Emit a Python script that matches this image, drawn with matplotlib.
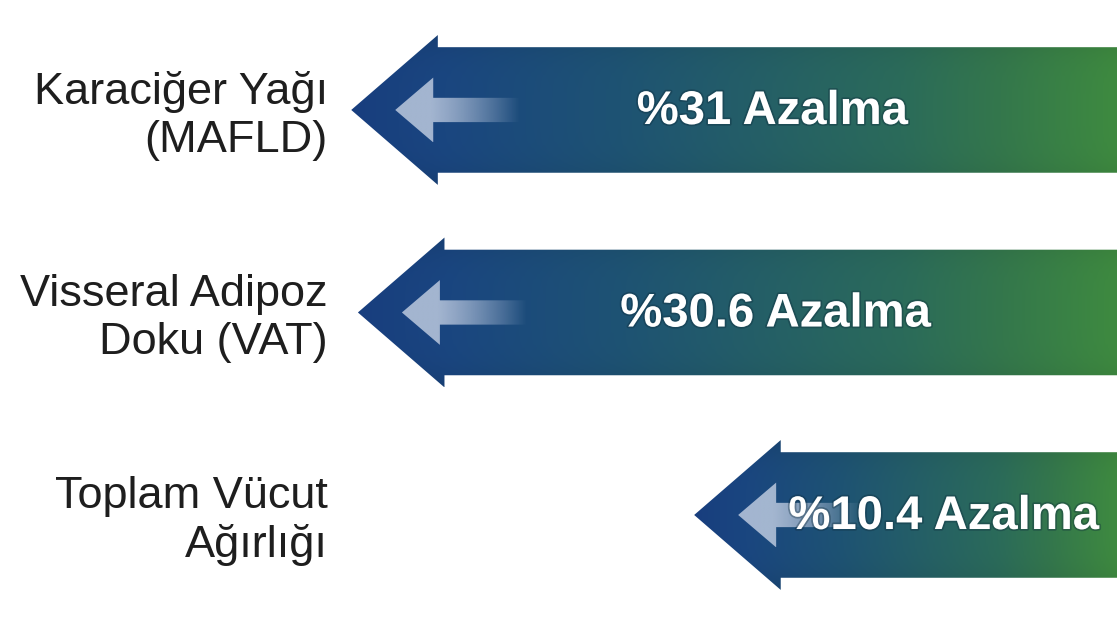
import numpy as np
import matplotlib.pyplot as plt
import matplotlib.transforms as mtransforms
import matplotlib.patheffects as pe
from matplotlib.patches import Polygon
from matplotlib.colors import LinearSegmentedColormap, to_rgb

# Veriler
etiketler = ['Karaciğer Yağı\n(MAFLD)', 'Visseral Adipoz\nDoku (VAT)', 'Toplam Vücut\nAğırlığı']
azalma = [31, 30.6, 10.4]
metinler = ['%31 Azalma', '%30.6 Azalma', '%10.4 Azalma']

ofset = 15.0        # ok uzunluğu = ofset + azalma
govde_h = 0.31      # gövde yarı yüksekliği (satır birimi)
bas_h = 0.37        # baş yarı yüksekliği
bas_l = 5.2         # baş uzunluğu (x birimi)

renk_haritasi = LinearSegmentedColormap.from_list(
    'mavi_yesil',
    [(0.0, '#183e7e'), (0.12, '#1a4680'), (0.35, '#1e5373'),
     (0.72, '#2b6b5a'), (0.85, '#34774c'), (1.0, '#3e8a40')])

FONT = ['Liberation Sans Narrow', 'Liberation Sans', 'DejaVu Sans']

fig = plt.figure(figsize=(11.17, 6.29), dpi=100)
ax = fig.add_axes([0, 0, 1, 1])
ax.set_xlim(-67.1, 0)
ax.set_ylim(2.563, -0.543)
ax.axis('off')


def ok_ciz(i, deger, metin):
    uc = -(deger + ofset)
    taban = uc + bas_l
    verts = [(uc, i), (taban, i - bas_h), (taban, i - govde_h), (0, i - govde_h),
             (0, i + govde_h), (taban, i + govde_h), (taban, i + bas_h)]
    poly = Polygon(verts, closed=True, facecolor='none', edgecolor='none')
    ax.add_patch(poly)

    # yatay renk geçişi + kenarlarda hafif koyulaşma
    nx, ny = 400, 80
    gx = np.linspace(0, 1, nx)
    rgb = renk_haritasi(gx)[:, :3]
    gy = np.linspace(-1, 1, ny)
    golge = 1.0 - 0.10 * gy ** 4
    img = rgb[None, :, :] * golge[:, None, None]
    im = ax.imshow(img, extent=[uc, 0, i + bas_h, i - bas_h],
                   aspect='auto', interpolation='bilinear', zorder=2)
    im.set_clip_path(poly)

    # içteki açık renkli küçük ok
    k = 1 / 16.65
    iuc = uc + 44 * k
    ibas = iuc + 38 * k
    ison = iuc + 125 * k
    ih, ig = 0.16, 0.06
    iverts = [(iuc, i), (ibas, i - ih), (ibas, i - ig), (ison, i - ig),
              (ison, i + ig), (ibas, i + ig), (ibas, i + ih)]
    ipoly = Polygon(iverts, closed=True, facecolor='none', edgecolor='none')
    ax.add_patch(ipoly)
    px = np.linspace(0, 1, 200)
    alfa = np.clip(1.15 - px ** 1.6 * 1.15, 0, 1) * 0.9
    c = np.array(to_rgb('#b4c3da'))
    iimg = np.zeros((10, 200, 4))
    iimg[:, :, :3] = c
    iimg[:, :, 3] = alfa[None, :]
    iim = ax.imshow(iimg, extent=[iuc, ison, i + ih, i - ih],
                    aspect='auto', interpolation='bilinear', zorder=3)
    iim.set_clip_path(ipoly)

    t = ax.text(taban / 2 - 0.3, i + 0.01, metin, color='white', fontsize=34,
                fontweight='bold', family=FONT, ha='center', va='center', zorder=4)
    t.set_path_effects([pe.withStroke(linewidth=2.5, foreground='#0d2a3a', alpha=0.35)])


trans = mtransforms.blended_transform_factory(ax.transAxes, ax.transData)
for i, (d, m) in enumerate(zip(azalma, metinler)):
    ok_ciz(i, d, m)
    ax.text(0.2936, i + 0.03, etiketler[i], transform=trans, ha='right', va='center',
            fontsize=32.5, color='#1e1e1e', family=FONT, linespacing=1.2)

fig.savefig('out.png', dpi=100)
